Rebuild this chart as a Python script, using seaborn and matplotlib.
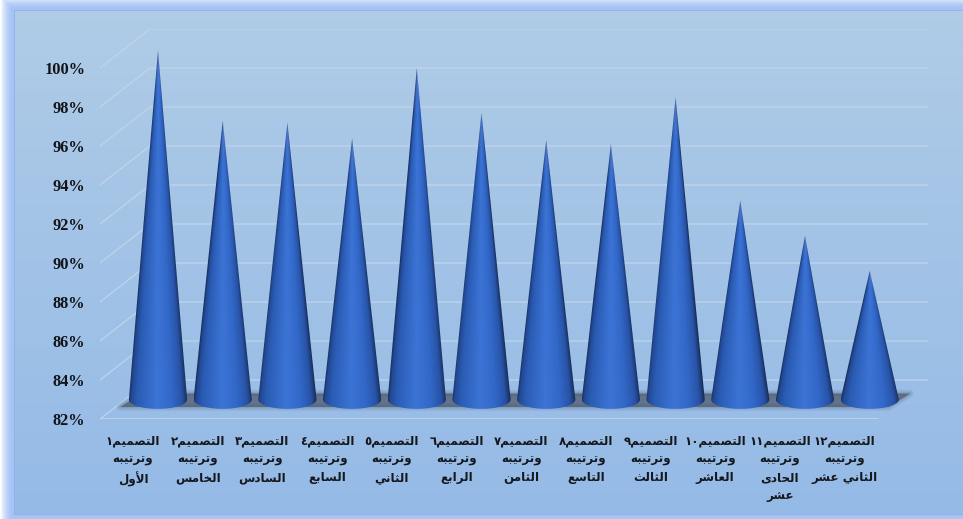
#!/usr/bin/env python3
"""
Cone chart of the twelve designs, pseudo 3D floor and back wall
"""

import re
import unicodedata

import matplotlib
matplotlib.use("Agg")
import matplotlib.pyplot as plt
import numpy as np
import pandas as pd
import seaborn as sns
from matplotlib.patches import Polygon

design_titles = ["التصميم١", "التصميم٢", "التصميم٣", "التصميم٤", "التصميم٥", "التصميم٦",
                 "التصميم٧", "التصميم٨", "التصميم٩", "التصميم١٠", "التصميم١١", "التصميم١٢"]
rank_titles = ["الأول", "الخامس", "السادس", "السابع", "الثاني", "الرابع",
               "الثامن", "التاسع", "الثالث", "العاشر", "الحادى\nعشر", "الثاني عشر"]
scores = [99.9, 96.3, 96.2, 95.4, 99.0, 96.7, 95.3, 95.1, 97.5, 92.2, 90.4, 88.6]
y_ticks = [82, 84, 86, 88, 90, 92, 94, 96, 98, 100]

W, H = 963, 519
AX_LEFT, AX_RIGHT, AX_TOP, AX_BOTTOM = 100, 928, 29, 419   # px
DEPTH_PX = 50       # back wall offset along x
DEPTH_Y = 2         # back wall offset in axis units
FIRST_CONE, CONE_STEP = 158, 64.7   # px


def build_forms():
    # presentation forms from the unicode tables, matplotlib does not shape arabic
    forms = {}
    for code in range(0xFE70, 0xFEFF):
        parts = unicodedata.decomposition(chr(code)).split()
        if len(parts) < 2 or not parts[0].startswith("<"):
            continue
        key = "".join(chr(int(p, 16)) for p in parts[1:])
        forms.setdefault(key, {})[parts[0].strip("<>")] = chr(code)
    return forms


FORMS = build_forms()


def shape_line(line):
    tokens = []
    i = 0
    while i < len(line):
        if line[i:i + 2] in FORMS:
            tokens.append(line[i:i + 2])
            i += 2
        else:
            tokens.append(line[i])
            i += 1
    out = []
    for i, tok in enumerate(tokens):
        if tok not in FORMS:
            out.append(tok)
            continue
        prev_tok = tokens[i - 1] if i > 0 else ""
        next_tok = tokens[i + 1] if i + 1 < len(tokens) else ""
        joins_prev = prev_tok in FORMS and "medial" in FORMS[prev_tok]
        joins_next = next_tok in FORMS and "medial" in FORMS[tok]
        if joins_prev and joins_next:
            form = "medial"
        elif joins_prev:
            form = "final"
        elif joins_next:
            form = "initial"
        else:
            form = "isolated"
        out.append(FORMS[tok].get(form, tok))
    # visual order, digit runs stay left to right
    visual = "".join(out)[::-1]
    return re.sub("[٠-٩]+", lambda m: m.group(0)[::-1], visual)


def shape_label(text):
    return "\n".join(shape_line(line) for line in text.split("\n"))


def draw_background(fig):
    bg = fig.add_axes([0, 0, 1, 1], zorder=-1)
    yy, xx = np.mgrid[0:H, 0:W]
    top = np.array([176, 204, 230.0])
    bottom = np.array([148, 186, 230.0])
    t = (yy / H)[..., None]
    img = top * (1 - t) + bottom * t
    # rim round the panel, fades to white outside
    left, up, low = 14, 10, 514
    dist = np.maximum.reduce([left - xx, up - yy, yy - low, np.zeros_like(xx)]).astype(float)
    rim = dist > 0
    fade = np.clip(dist / 14, 0, 1)[..., None] ** 2
    rim_col = np.array([164, 194, 246.0]) * (1 - fade) + 255 * fade
    img = np.where(rim[..., None], rim_col, img)
    edge = (np.abs(yy - up) < 1) & (xx >= left) | (np.abs(xx - left) < 1) & (yy >= up) & (yy <= low) | (np.abs(yy - low) < 1) & (xx >= left)
    img[edge] = [146, 180, 230]
    bg.imshow(img / 255, aspect="auto", extent=(0, W, H, 0), interpolation="bilinear")
    bg.axis("off")


def cone_shade(u, v):
    stops = [-1.0, -0.93, -0.72, -0.05, 0.45, 0.8, 0.94, 1.0]
    reds = [26, 34, 42, 60, 50, 40, 28, 20]
    greens = [48, 72, 92, 116, 104, 84, 56, 36]
    blues = [100, 146, 180, 214, 200, 168, 112, 76]
    rgb = np.dstack([np.interp(u, stops, c) for c in (reds, greens, blues)])
    # tip washes out to a paler blue
    wash = np.clip(1 - v / 0.14, 0, 1)[..., None] * 0.55
    return (rgb * (1 - wash) + np.array([96, 128, 200.0]) * wash) / 255


def draw_cone(ax, bar):
    cx = bar.get_x() + bar.get_width() / 2
    half = bar.get_width() / 2
    base = ax.get_ylim()[0] + DEPTH_Y / 2
    tip = bar.get_height() + DEPTH_Y / 2
    minor = 0.48
    # shading follows the slanted sides
    xs = np.linspace(cx - half, cx + half, 240)
    ys = np.linspace(tip, base - minor, 500)
    gx, gy = np.meshgrid(xs, ys)
    height = np.clip((tip - gy) / (tip - base), 0.001, 1)
    u = np.clip((gx - cx) / (half * height), -1, 1)
    im = ax.imshow(cone_shade(u, height), extent=(cx - half, cx + half, base - minor, tip),
                   aspect="auto", zorder=4, interpolation="bilinear")
    # outline, tip then the front half of the base ellipse
    angle = np.linspace(0, np.pi, 60)
    arc = np.column_stack([cx + half * np.cos(angle), base - minor * np.sin(angle)])
    outline = np.vstack([[cx, tip], arc])
    clip = Polygon(outline, closed=True, transform=ax.transData, facecolor="none", edgecolor="none")
    ax.add_patch(clip)
    im.set_clip_path(clip)


def main():
    sns.set_theme(style="white")
    plt.rcParams["font.family"] = ["DejaVu Sans"]

    fig = plt.figure(figsize=(W / 100, H / 100), dpi=100)
    draw_background(fig)
    ax = fig.add_axes([AX_LEFT / W, 1 - AX_BOTTOM / H, (AX_RIGHT - AX_LEFT) / W, (AX_BOTTOM - AX_TOP) / H])
    ax.patch.set_alpha(0)

    df = pd.DataFrame({"design": design_titles, "score": scores})
    sns.barplot(data=df, x="design", y="score", order=design_titles, width=0.9, color="#2f5fb3", ax=ax)

    x_min = (AX_LEFT - FIRST_CONE) / CONE_STEP
    x_max = (AX_RIGHT - FIRST_CONE) / CONE_STEP
    dx = DEPTH_PX / CONE_STEP
    ax.set_xlim(x_min, x_max)
    ax.set_ylim(82, 102)
    bars = list(ax.patches)

    # wall and floor grid
    grid_col = "#c2d5ea"
    for v in y_ticks:
        ax.plot([x_min, x_min + dx, x_max], [v, v + DEPTH_Y, v + DEPTH_Y], color=grid_col, lw=1.0, alpha=0.85, zorder=1)
    ax.plot([x_min, x_max - dx], [82, 82], color=grid_col, lw=1.2, zorder=1)

    # soft shadow on the floor under the cones
    first, last = bars[0], bars[-1]
    sx0 = first.get_x()
    sx1 = last.get_x() + last.get_width()
    shadow = np.array([[sx0 - 0.13, 82.62], [sx0 + 0.2, 83.3], [sx1 + 0.17, 83.3], [sx1 - 0.16, 82.62]])
    for lw, alpha in [(6, 0.07), (4, 0.10), (2, 0.16)]:
        ax.add_patch(Polygon(shadow, closed=True, facecolor="#4a5364", edgecolor="#4a5364",
                             lw=lw, alpha=alpha, joinstyle="round", zorder=2))
    ax.add_patch(Polygon(shadow, closed=True, facecolor="#4a5364", edgecolor="none", alpha=0.55, zorder=3))

    for bar in bars:
        draw_cone(ax, bar)
        bar.set_visible(False)
    ax.set_xlim(x_min, x_max)
    ax.set_ylim(82, 102)

    # labels are centred on the front half of each slot
    labels = [shape_label(f"{d}\nوترتيبه\n{r}") for d, r in zip(design_titles, rank_titles)]
    ax.set_xticks(np.arange(len(labels)) - dx / 2, labels)
    ax.set_yticks(y_ticks, [f"{v}%" for v in y_ticks])
    ax.tick_params(axis="x", length=0, pad=11)
    ax.tick_params(axis="y", length=0, pad=10.5)
    for t in ax.get_xticklabels():
        t.set_fontsize(8.6)
        t.set_fontweight("bold")
        t.set_color("#15181d")
        t.set_linespacing(1.52)
        t.set_multialignment("center")
    for t in ax.get_yticklabels():
        t.set_fontfamily(["Liberation Serif", "DejaVu Serif"])
        t.set_fontsize(11.8)
        t.set_fontweight("bold")
        t.set_color("#11141a")
    ax.set_xlabel("")
    ax.set_ylabel("")
    sns.despine(ax=ax, left=True, bottom=True)

    fig.savefig("out.png", dpi=100)


if __name__ == "__main__":
    main()
